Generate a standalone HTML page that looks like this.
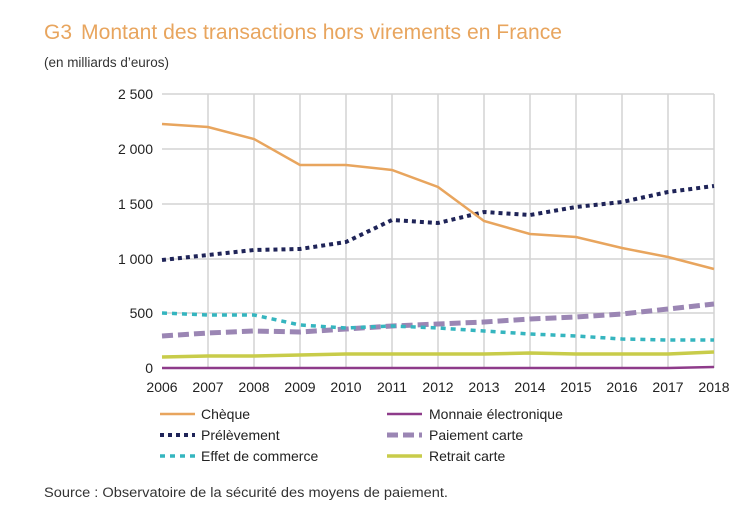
<!DOCTYPE html>
<html><head><meta charset="utf-8"><style>
body{margin:0;background:#fff;width:750px;height:517px;overflow:hidden}
svg text{font-family:"Liberation Sans Narrow","Liberation Sans",sans-serif}
</style></head><body>
<svg width="750" height="517" viewBox="0 0 750 517" xmlns="http://www.w3.org/2000/svg">
<text x="44" y="39" font-size="21" fill="#e8a55e">G3</text>
<text x="81" y="39" font-size="21" fill="#e8a55e" textLength="481" lengthAdjust="spacingAndGlyphs">Montant des transactions hors virements en France</text>
<text x="44" y="67" font-size="13.5" fill="#333" textLength="125" lengthAdjust="spacingAndGlyphs">(en milliards d’euros)</text>
<g stroke="#d4d4d4" stroke-width="1.5">
<line x1="162" y1="94" x2="714" y2="94"/><line x1="162" y1="149" x2="714" y2="149"/><line x1="162" y1="204" x2="714" y2="204"/><line x1="162" y1="259" x2="714" y2="259"/><line x1="162" y1="313" x2="714" y2="313"/>
<line x1="208" y1="94" x2="208" y2="368"/><line x1="254" y1="94" x2="254" y2="368"/><line x1="300" y1="94" x2="300" y2="368"/><line x1="346" y1="94" x2="346" y2="368"/><line x1="392" y1="94" x2="392" y2="368"/><line x1="438" y1="94" x2="438" y2="368"/><line x1="484" y1="94" x2="484" y2="368"/><line x1="530" y1="94" x2="530" y2="368"/><line x1="576" y1="94" x2="576" y2="368"/><line x1="622" y1="94" x2="622" y2="368"/><line x1="668" y1="94" x2="668" y2="368"/><line x1="714" y1="94" x2="714" y2="368"/>
</g>
<g font-size="14" fill="#222" text-anchor="end">
<text x="153" y="99">2 500</text><text x="153" y="154">2 000</text><text x="153" y="209">1 500</text><text x="153" y="264">1 000</text><text x="153" y="318">500</text><text x="153" y="373">0</text>
</g>
<g font-size="14" fill="#222" text-anchor="middle">
<text x="162" y="392">2006</text><text x="208" y="392">2007</text><text x="254" y="392">2008</text><text x="300" y="392">2009</text><text x="346" y="392">2010</text><text x="392" y="392">2011</text><text x="438" y="392">2012</text><text x="484" y="392">2013</text><text x="530" y="392">2014</text><text x="576" y="392">2015</text><text x="622" y="392">2016</text><text x="668" y="392">2017</text><text x="714" y="392">2018</text>
</g>
<g fill="none">
<polyline stroke="#c8cc4a" stroke-width="3.5" points="162,357 208,356 254,356 300,355 346,354 392,354 438,354 484,354 530,353 576,354 622,354 668,354 714,352"/>
<polyline stroke="#9b86b4" stroke-width="5" stroke-dasharray="11,5" points="162,336 208,333 254,331 300,332 346,329 392,326 438,324 484,322 530,319 576,317 622,314 668,309 714,304"/>
<polyline stroke="#35b5bf" stroke-width="3.5" stroke-dasharray="5,5" points="162,313 208,315 254,315 300,325 346,328 392,326 438,328 484,331 530,334 576,336 622,339 668,340 714,340"/>
<polyline stroke="#8e3b8a" stroke-width="2.5" points="162,368 668,368 714,367"/>
<polyline stroke="#1f2458" stroke-width="4" stroke-dasharray="4,4" points="162,260 208,255 254,250 300,249 346,242 392,220 438,223 484,212 530,215 576,207 622,202 668,192 714,186"/>
<polyline stroke="#e8a55e" stroke-width="2.5" points="162,124 208,127 254,139 300,165 346,165 392,170 438,187 484,221 530,234 576,237 622,248 668,257 714,269"/>
</g>
<g font-size="14" fill="#222">
<line x1="160" y1="414" x2="195" y2="414" stroke="#e8a55e" stroke-width="2.5"/><text x="201" y="419">Chèque</text>
<line x1="160" y1="435" x2="195" y2="435" stroke="#1f2458" stroke-width="4" stroke-dasharray="4,4"/><text x="201" y="440">Prélèvement</text>
<line x1="160" y1="456" x2="195" y2="456" stroke="#35b5bf" stroke-width="3.5" stroke-dasharray="5,5"/><text x="201" y="461">Effet de commerce</text>
<line x1="387" y1="414" x2="422" y2="414" stroke="#8e3b8a" stroke-width="2.5"/><text x="429" y="419">Monnaie électronique</text>
<line x1="387" y1="435" x2="422" y2="435" stroke="#9b86b4" stroke-width="5" stroke-dasharray="11,5"/><text x="429" y="440">Paiement carte</text>
<line x1="387" y1="456" x2="422" y2="456" stroke="#c8cc4a" stroke-width="3.5"/><text x="429" y="461">Retrait carte</text>
</g>
<text x="44" y="497" font-size="13.5" fill="#333" textLength="404" lengthAdjust="spacingAndGlyphs">Source : Observatoire de la sécurité des moyens de paiement.</text>
</svg>
</body></html>
